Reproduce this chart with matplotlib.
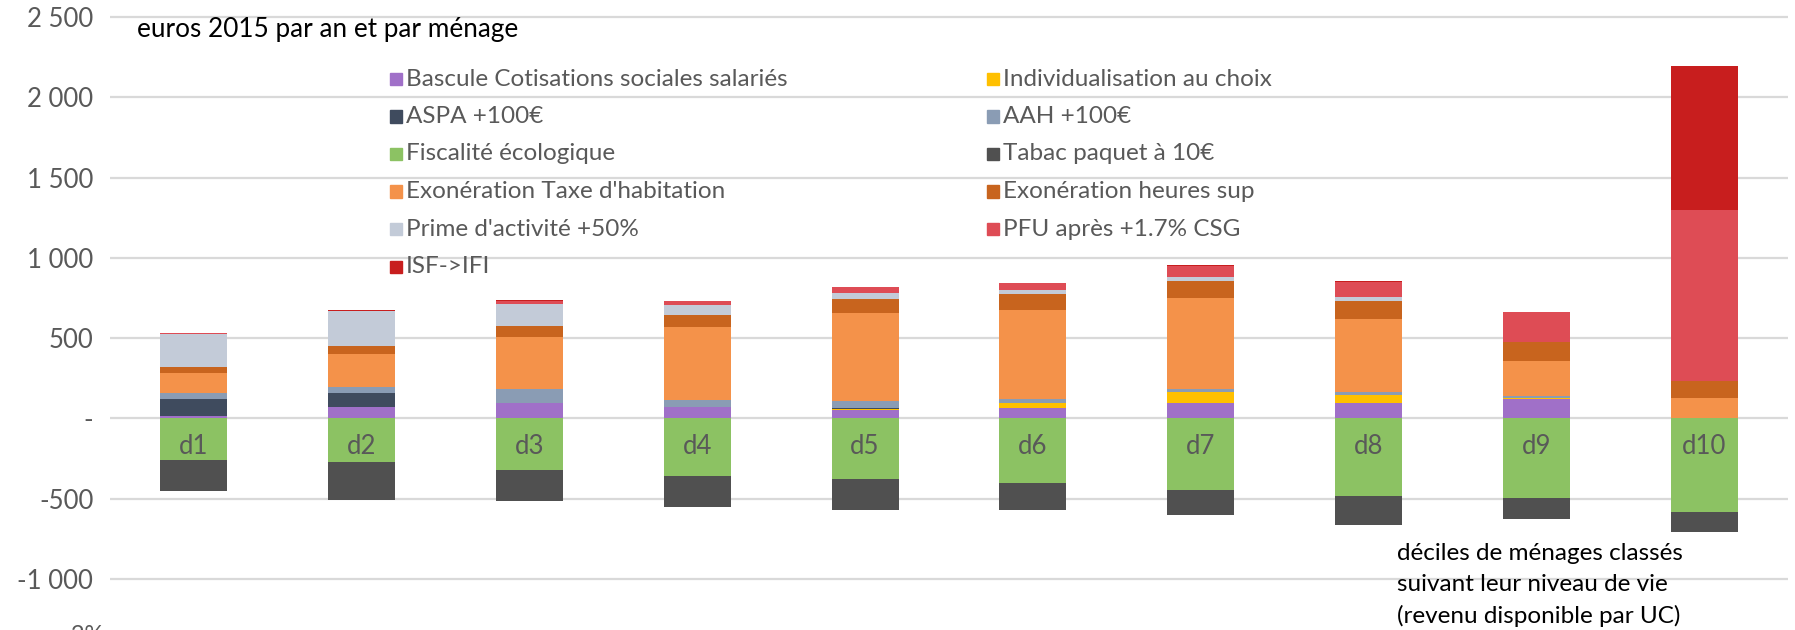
import numpy as np
import matplotlib.pyplot as plt
from matplotlib.patches import Rectangle

plt.rcParams['font.family'] = ['Lato', 'DejaVu Sans']

# deciles
deciles = ['d1', 'd2', 'd3', 'd4', 'd5', 'd6', 'd7', 'd8', 'd9', 'd10']

# euros 2015 par an et par ménage
bascule = [15, 73, 98, 69, 52, 63, 99, 99, 118, 0]
individualisation = [0, 0, 0, 0, 6, 35, 66, 48, 12, 0]
aspa = [104, 85, 0, 0, 6, 0, 0, 0, 0, 0]
aah = [37, 35, 87, 46, 44, 25, 17, 19, 12, 0]
fiscalite = [-258, -274, -324, -357, -376, -400, -446, -481, -498, -581]
tabac = [-195, -235, -190, -195, -195, -170, -155, -185, -130, -126]
exo_th = [129, 208, 325, 454, 548, 550, 568, 455, 216, 127]
exo_hs = [37, 48, 67, 75, 90, 102, 105, 110, 116, 104]
prime = [204, 217, 135, 65, 35, 23, 25, 27, 0, 0]
pfu = [6, 6, 22, 20, 36, 44, 70, 92, 186, 1069]
isf = [2, 2, 5, 5, 4, 4, 4, 5, 5, 896]

names = ['Bascule Cotisations sociales salariés', 'Individualisation au choix',
         'ASPA +100€', 'AAH +100€', 'Fiscalité écologique', 'Tabac paquet à 10€',
         "Exonération Taxe d'habitation", 'Exonération heures sup',
         "Prime d'activité +50%", 'PFU après +1.7% CSG', 'ISF->IFI']
series = [bascule, individualisation, aspa, aah, fiscalite, tabac,
          exo_th, exo_hs, prime, pfu, isf]
colors = ['#A070C8', '#FFC000', '#3F4B5E', '#8A9CB4', '#8CC263', '#505050',
          '#F4924A', '#C8641E', '#C3CBD8', '#DE4C55', '#C81E1E']

yticks = [-1000, -500, 0, 500, 1000, 1500, 2000, 2500]
ylabels = ['-1 000', '-500', '-', '500', '1 000', '1 500', '2 000', '2 500']

W, H = 1795, 630
fig = plt.figure(figsize=(W / 100, H / 100), dpi=100)
ax = fig.add_axes([110 / W, 0, 1678 / W, 1])

x = np.arange(len(deciles))
pos_bottom = np.zeros(len(deciles))
neg_bottom = np.zeros(len(deciles))
for vals, c in zip(series, colors):
    v = np.array(vals, dtype=float)
    if (v <= 0).all():
        ax.bar(x, v, 0.4, bottom=neg_bottom, color=c, zorder=3)
        neg_bottom += v
    else:
        ax.bar(x, v, 0.4, bottom=pos_bottom, color=c, zorder=3)
        pos_bottom += v

ax.set_xlim(-0.5, 9.5)
ax.set_ylim(-1318, 2606)
ax.set_yticks(yticks)
ax.set_yticklabels(ylabels)
ax.tick_params(axis='y', length=0, pad=12, labelsize=18.5, labelcolor='#595959')
ax.set_xticks([])
ax.grid(axis='y', color='#D9D9D9', linewidth=1.6, zorder=0)
for s in ax.spines.values():
    s.set_visible(False)

for i, d in enumerate(deciles):
    ax.text(i, -175, d, ha='center', va='center', fontsize=18.5, color='#595959', zorder=4)

# legend, two columns, row-wise order
for k, (name, c) in enumerate(zip(names, colors)):
    row, col = divmod(k, 2)
    xs = [390, 987][col]
    yc = 79 + row * 37.5
    fig.patches.append(Rectangle((xs / W, 1 - (yc + 6) / H), 12 / W, 12 / H,
                                 transform=fig.transFigure, color=c))
    fig.text((xs + 16) / W, 1 - yc / H, name, ha='left', va='center',
             fontsize=17.5, color='#595959')

fig.text(137 / W, 1 - 30 / H, 'euros 2015 par an et par ménage', ha='left',
         va='center', fontsize=18.8, color='black')
fig.text(1397 / W, 1 - 585 / H,
         'déciles de ménages classés\nsuivant leur niveau de vie\n(revenu disponible par UC)',
         ha='left', va='center', fontsize=17.5, color='black', linespacing=1.55)
fig.text(62 / W, 1 - 625 / H, '-2%', ha='left', va='top', fontsize=17, color='#595959')

fig.savefig('out.png', dpi=100)
